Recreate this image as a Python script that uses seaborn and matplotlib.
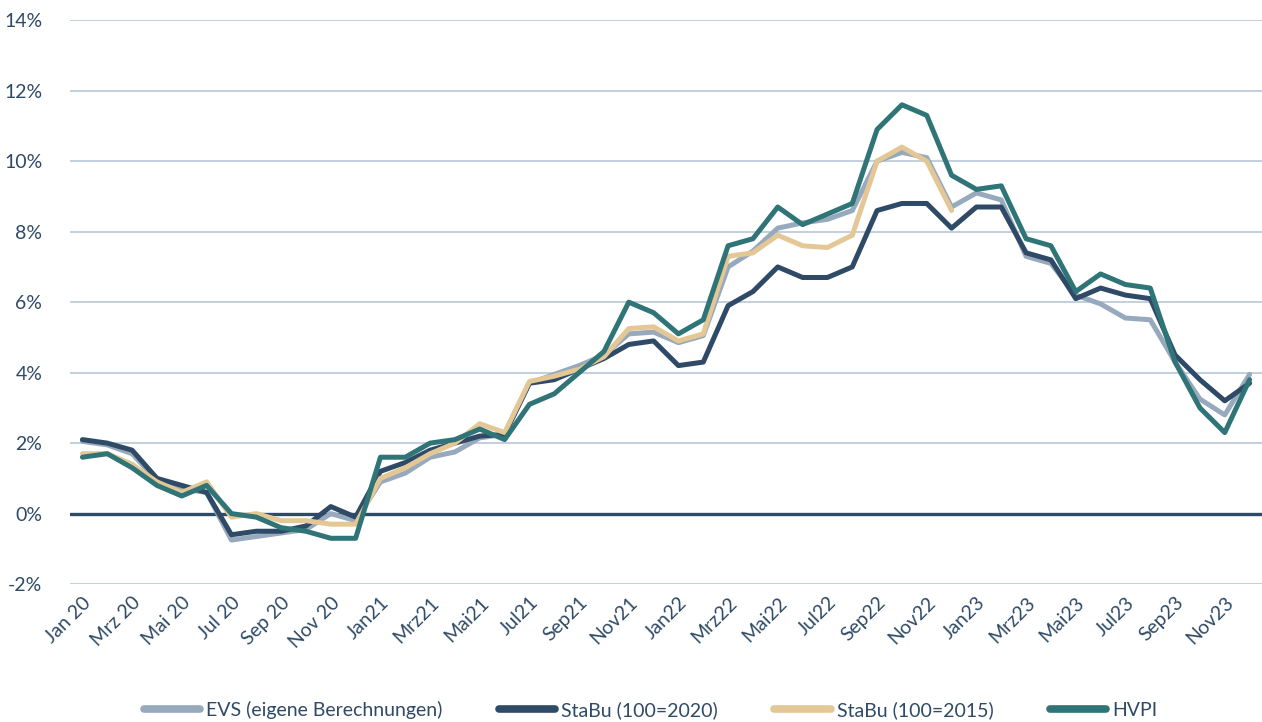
import numpy as np
import pandas as pd
import seaborn as sns
import matplotlib.pyplot as plt

# monthly inflation rates (% yoy), Jan 2020 - Dec 2023
months = ['Jan 20', 'Feb 20', 'Mrz 20', 'Apr 20', 'Mai 20', 'Jun 20', 'Jul 20', 'Aug 20', 'Sep 20', 'Okt 20', 'Nov 20', 'Dez 20',
          'Jan21', 'Feb21', 'Mrz21', 'Apr21', 'Mai21', 'Jun21', 'Jul21', 'Aug21', 'Sep21', 'Okt21', 'Nov21', 'Dez21',
          'Jan22', 'Feb22', 'Mrz22', 'Apr22', 'Mai22', 'Jun22', 'Jul22', 'Aug22', 'Sep22', 'Okt22', 'Nov22', 'Dez22',
          'Jan23', 'Feb23', 'Mrz23', 'Apr23', 'Mai23', 'Jun23', 'Jul23', 'Aug23', 'Sep23', 'Okt23', 'Nov23', 'Dez23']

evs = [2.05, 1.95, 1.7, 0.95, 0.7, 0.6, -0.75, -0.65, -0.55, -0.45, 0.0, -0.2,
       0.9, 1.15, 1.6, 1.75, 2.15, 2.25, 3.7, 3.95, 4.2, 4.5, 5.1, 5.15,
       4.85, 5.05, 7.0, 7.45, 8.1, 8.25, 8.35, 8.6, 10.0, 10.25, 10.1, 8.7,
       9.1, 8.9, 7.3, 7.1, 6.2, 5.95, 5.55, 5.5, 4.3, 3.25, 2.8, 3.95]

stabu2020 = [2.1, 2.0, 1.8, 1.0, 0.8, 0.6, -0.6, -0.5, -0.5, -0.35, 0.2, -0.1,
             1.2, 1.45, 1.8, 2.0, 2.2, 2.25, 3.7, 3.8, 4.1, 4.4, 4.8, 4.9,
             4.2, 4.3, 5.9, 6.3, 7.0, 6.7, 6.7, 7.0, 8.6, 8.8, 8.8, 8.1,
             8.7, 8.7, 7.4, 7.2, 6.1, 6.4, 6.2, 6.1, 4.5, 3.8, 3.2, 3.7]

stabu2015 = [1.7, 1.7, 1.4, 0.9, 0.6, 0.9, -0.1, 0.0, -0.2, -0.2, -0.3, -0.3,
             1.0, 1.3, 1.7, 2.0, 2.55, 2.3, 3.75, 3.9, 4.1, 4.45, 5.25, 5.3,
             4.9, 5.1, 7.3, 7.4, 7.9, 7.6, 7.55, 7.9, 10.0, 10.4, 10.0, 8.6] + [np.nan] * 12

hvpi = [1.6, 1.7, 1.3, 0.8, 0.5, 0.8, 0.0, -0.1, -0.4, -0.5, -0.7, -0.7,
        1.6, 1.6, 2.0, 2.1, 2.4, 2.1, 3.1, 3.4, 4.0, 4.6, 6.0, 5.7,
        5.1, 5.5, 7.6, 7.8, 8.7, 8.2, 8.5, 8.8, 10.9, 11.6, 11.3, 9.6,
        9.2, 9.3, 7.8, 7.6, 6.3, 6.8, 6.5, 6.4, 4.3, 3.0, 2.3, 3.8]

series = ['EVS (eigene Berechnungen)', 'StaBu (100=2020)', 'StaBu (100=2015)', 'HVPI']
colors = ['#97A9BC', '#2E4A66', '#E3C896', '#2F7476']

df = pd.DataFrame({'t': np.arange(len(months)),
                   series[0]: evs, series[1]: stabu2020, series[2]: stabu2015, series[3]: hvpi})
long = df.melt(id_vars='t', var_name='Reihe', value_name='Rate').dropna()

sns.set_style('white')
plt.rcParams['font.family'] = ['Lato', 'DejaVu Sans']
plt.rcParams['axes.unicode_minus'] = False

fig = plt.figure(figsize=(12.62, 7.22), dpi=100)
ax = fig.add_axes([0.0555, 0.191, 0.9445, 0.781])

ax.axhline(0, color='#2E4A66', lw=2.4, zorder=1)
sns.lineplot(data=long, x='t', y='Rate', hue='Reihe', hue_order=series, palette=colors,
             lw=3.6, ax=ax, zorder=3)

ax.set_ylim(-2, 14)
ax.set_yticks(range(-2, 15, 2))
ax.set_yticklabels([f'{v}%' for v in range(-2, 15, 2)])
ax.set_xlim(-0.5, len(months) - 0.5)
ax.set_xticks(range(0, len(months), 2))
ax.set_xticklabels(months[::2], rotation=45, ha='right', rotation_mode='anchor')
ax.grid(axis='y', color='#BDCCDB', lw=1.3, zorder=0)
ax.set_axisbelow(True)
for s in ax.spines.values():
    s.set_visible(False)
ax.tick_params(axis='both', length=0, labelsize=14, labelcolor='#2E4A66')
ax.tick_params(axis='x', pad=7)
ax.tick_params(axis='y', pad=20)
ax.set_xlabel('')
ax.set_ylabel('')

leg = ax.legend(loc='center', bbox_to_anchor=(0.487, -0.223), ncol=4, frameon=False,
                fontsize=14, handlelength=2.9, columnspacing=2.9, handletextpad=0.3)
for t in leg.get_texts():
    t.set_color('#2E4A66')
for h in leg.get_lines():
    h.set_linewidth(5.5)

fig.savefig('out.png', dpi=100)
